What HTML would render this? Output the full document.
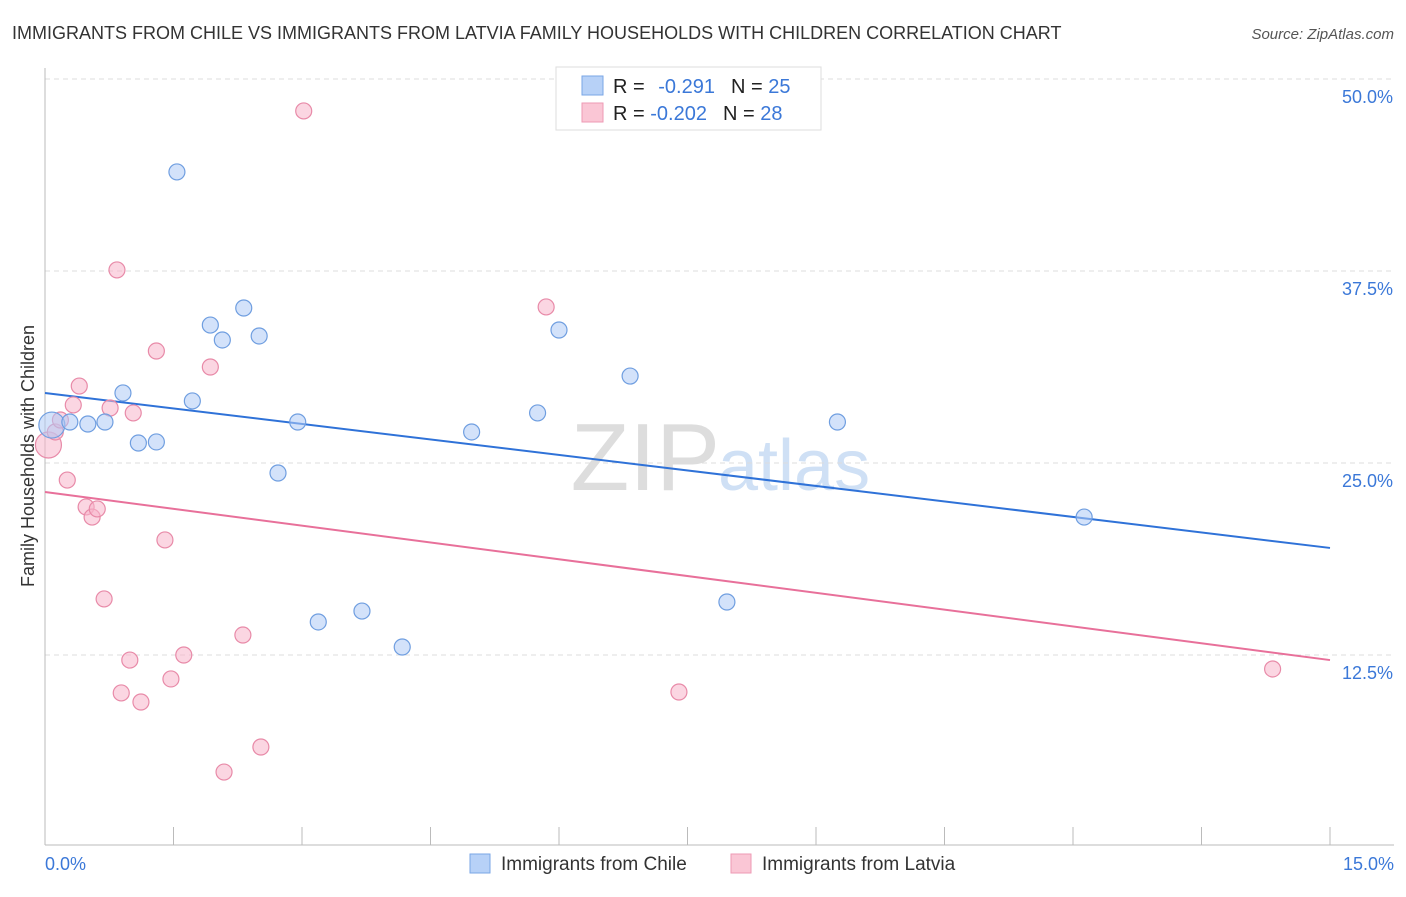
<!DOCTYPE html>
<html><head><meta charset="utf-8"><style>
body{margin:0;background:#fff;font-family:"Liberation Sans",sans-serif}
svg text{font-family:"Liberation Sans",sans-serif}
</style></head><body>
<svg id="c" width="1406" height="892">
<text x="12" y="39" font-size="18" fill="#333">IMMIGRANTS FROM CHILE VS IMMIGRANTS FROM LATVIA FAMILY HOUSEHOLDS WITH CHILDREN CORRELATION CHART</text>
<text x="1394" y="39" font-size="15" fill="#555" font-style="italic" text-anchor="end">Source: ZipAtlas.com</text>
<text x="720" y="490" font-size="96" fill="#ddd" text-anchor="end" font-family="Liberation Serif">ZIP</text>
<text x="718" y="490" font-size="72" fill="#cfe0f5">atlas</text>
<g id="grid"></g><g id="lines"></g><g id="pts"></g>
<text transform="translate(34,456) rotate(-90)" font-size="18" fill="#333" text-anchor="middle">Family Households with Children</text>
<text x="45" y="870" font-size="18" fill="#3b78d8">0.0%</text>
<text x="1394" y="870" font-size="18" fill="#3b78d8" text-anchor="end">15.0%</text>
<g>
<rect x="556" y="67" width="265" height="63" fill="#fff" stroke="#ddd"/>
<rect x="582" y="76" width="21" height="19" fill="#b7d1f7" stroke="#7aa6e6"/>
<rect x="582" y="103" width="21" height="19" fill="#fac6d5" stroke="#ee9ab4"/>
<text x="613" y="93" font-size="20" fill="#222">R = <tspan fill="#3b78d8" dx="8">-0.291</tspan><tspan dx="16" fill="#222">N = </tspan><tspan fill="#3b78d8">25</tspan></text>
<text x="613" y="120" font-size="20" fill="#222">R = <tspan fill="#3b78d8">-0.202</tspan><tspan dx="16" fill="#222">N = </tspan><tspan fill="#3b78d8">28</tspan></text>
</g>
<g>
<rect x="470" y="854" width="20" height="19" fill="#b7d1f7" stroke="#7aa6e6"/>
<text x="501" y="870" font-size="19" fill="#333">Immigrants from Chile</text>
<rect x="731" y="854" width="20" height="19" fill="#fac6d5" stroke="#ee9ab4"/>
<text x="762" y="870" font-size="19" fill="#333">Immigrants from Latvia</text>
</g>
</svg>
<script>
const chileX=[0.08,0.29,0.50,0.70,0.91,1.09,1.30,1.54,1.72,1.93,2.07,2.32,2.50,2.72,2.95,3.19,3.70,4.17,4.98,5.75,6.00,6.83,7.96,9.25,12.13];
const chileY=[27.47,27.67,27.54,27.67,29.56,26.30,26.37,43.95,29.04,33.98,33.01,35.09,33.27,24.35,27.67,14.65,15.36,13.02,27.02,28.26,33.66,30.66,15.95,27.67,21.48];
const latviaX=[0.04,0.12,0.18,0.26,0.33,0.40,0.48,0.55,0.61,0.69,0.76,0.84,0.89,0.99,1.03,1.12,1.30,1.40,1.47,1.62,1.93,2.09,2.31,2.52,3.02,5.85,7.40,14.33];
const latviaY=[26.17,27.02,27.80,23.89,28.78,30.01,22.14,21.48,22.01,16.15,28.58,37.57,10.03,12.17,28.26,9.44,32.29,19.99,10.94,12.50,31.25,4.88,13.80,6.51,47.92,35.16,10.09,11.59];
const yTicks=[12.5,25.0,37.5,50.0];
const xTicks=[0,1.5,3,4.5,6,7.5,9,10.5,12,13.5,15];
const chileTrend=[29.56,19.47];
const latviaTrend=[23.11,12.17];
const NS="http://www.w3.org/2000/svg";
const X=v=>45+v/15*1285, Y=v=>847-v/12.5*192;
function mk(p,t,a){const e=document.createElementNS(NS,t);for(const k in a)e.setAttribute(k,a[k]);document.getElementById(p).appendChild(e);return e;}
yTicks.forEach(t=>{let l=mk('grid','line',{x1:45,x2:1394,y1:Y(t),y2:Y(t),stroke:'#ddd','stroke-dasharray':'5,4'});


let tx=mk('grid','text',{x:1393,y:Y(t)+24,'font-size':18,fill:'#3b78d8','text-anchor':'end'});tx.textContent=t.toFixed(1)+'%';

});
let ax=mk('grid','line',{x1:45,x2:1394,y1:845,y2:845,stroke:'#bbb'});


let ay=mk('grid','line',{x1:45,x2:45,y1:68,y2:845,stroke:'#bbb'});


xTicks.forEach(t=>{let l=mk('grid','line',{x1:X(t),x2:X(t),y1:845,y2:827,stroke:'#bbb'});

});
function trend(v,c,n){let l=mk('lines','line',{x1:X(0),y1:Y(v[0]),x2:X(15),y2:Y(v[1]),stroke:c,'stroke-width':2});

}
trend(chileTrend,'#2f72d8','chile-trend-line');
trend(latviaTrend,'#e8709a','latvia-trend-line');
function pts(xs,ys,f,s,n){xs.forEach((x,i)=>{let c=mk('pts','circle',{cx:X(x),cy:Y(ys[i]),r:i==0?13:8,fill:f,'fill-opacity':0.55,stroke:s,'stroke-width':1.2});

});}
pts(latviaX,latviaY,'#f7b5ca','#e88aa8','latvia-point');
pts(chileX,chileY,'#aecbf5','#6f9ee0','chile-point');
</script>
</body></html>
